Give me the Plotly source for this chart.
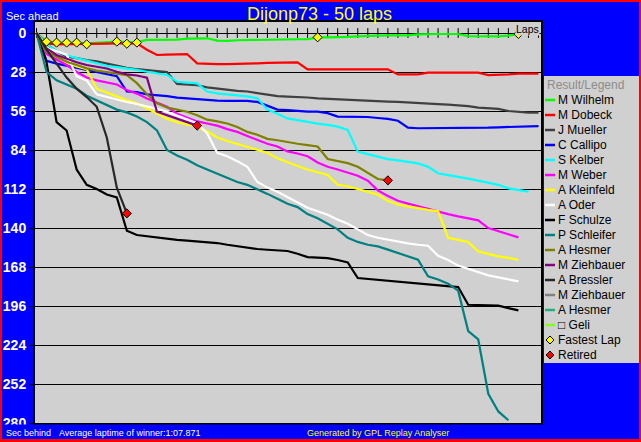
import plotly.graph_objects as go

# ---------------- data ----------------
drivers = ["M Wilhelm", "M Dobeck", "J Mueller", "C Callipo", "S Kelber", "M Weber",
           "A Kleinfeld", "A Oder", "F Schulze", "P Schleifer", "A Hesmer", "M Ziehbauer",
           "A Bressler", "M Ziehbauer", "A Hesmer", "\u25a1 Geli"]
colors = ["#00ff00", "#ff0000", "#404040", "#0000ff", "#00ffff", "#ff00ff",
          "#ffff00", "#ffffff", "#000000", "#008080", "#808000", "#800080",
          "#282828", "#808080", "#20b080", "#80ff20"]

wilhelm = [0, 6.2, 6.9, 6.9, 6.9, 7.5, 7.2, 6.7, 6.2, 6.5, 6.5,
           5.0, 5.0, 5.0, 4.8, 4.0, 3.8, 3.8, 5.5, 5.7, 5.2,
           5.0, 5.0, 4.8, 4.5, 4.5, 4.5, 4.5, 3.1, 3.1, 3.1,
           2.8, 2.4, 2.4, 1.9, 1.7, 1.7, 1.7, 1.0, 0.7, 0.7,
           0.7, 0.7, 2.2, 2.4, 2.4, 2.4, 1.9, 0.7, 0.2, 0.2]
dobeck = [0, 7.5, 8.1, 8.1, 8.1, 8.1, 8.1, 7.6, 7.4, 7.4, 7.4,
          12.0, 15.8, 15.5, 15.1, 15.1, 21.8, 22.3, 22.3, 22.3, 22.3,
          22.3, 21.8, 21.5, 21.5, 21.1, 21.1, 26.1, 26.1, 26.1, 26.1,
          26.1, 26.1, 26.1, 26.1, 26.1, 29.7, 29.7, 29.7, 28.5, 28.5,
          28.5, 28.5, 28.5, 28.5, 30.2, 30.2, 29.7, 29.2, 29.2, 29.2]
mueller = [0, 8, 13, 17, 18, 19.5, 20.4, 22, 23.5, 25, 26,
           26.8, 27.3, 28, 36.5, 37, 37.5, 39, 40, 41, 41.5,
           42, 43, 44.3, 45.3, 45.7, 45.9, 46.3, 46.9, 47.3, 47.6,
           47.9, 48.3, 48.6, 49, 49.3, 49.5, 50, 50.3, 50.5, 51,
           51.4, 51.7, 52.5, 53.6, 54, 54.5, 56, 56.6, 57.2, 57.2]
callipo = [0, 20, 22, 23.5, 25, 27, 28.5, 30, 31, 42, 42.5,
           44, 44.5, 45.3, 46.4, 47, 47.6, 48, 48.5, 48.8, 48.8,
           48.8, 49.5, 52, 55, 55.3, 56, 56.5, 56.5, 57.5, 60,
           60, 60, 60.3, 61, 61.7, 63, 68, 68.4, 68.4, 68.4,
           68.4, 68.4, 68.4, 68.2, 68, 67.7, 67.5, 67.5, 67, 66.8]
kelber = [0, 8, 13, 16, 18, 20, 22, 23.5, 24.5, 25.4, 26.5,
          27.8, 29, 30, 35, 35.5, 36.1, 42, 43.3, 44, 44.5,
          45.5, 46.9, 55, 58, 61.3, 62.5, 64, 65.1, 66, 67.2,
          69.6, 85.2, 87, 88.8, 90.5, 91.5, 92.5, 93.6, 96, 100.7,
          102, 103.1, 104.5, 106, 107.5, 109, 111.5, 112.5, 113.9]
weber = [0, 15, 19, 23, 28, 32, 34, 35.5, 37, 41, 43.5,
         47, 50, 53, 58, 61, 63.5, 65, 66.5, 69, 71,
         74, 77, 79.5, 81.5, 85, 86.5, 88.5, 93, 96, 98,
         100, 102.5, 106, 113, 117, 120.5, 122.5, 124.5, 126, 128,
         130, 131.7, 133, 134.5, 140, 142, 144.5, 146.7]
kleinfeld = [0, 10, 16, 21, 24, 26, 40, 42.5, 45.5, 48.3, 50.5,
             54, 58, 61.5, 64, 65.8, 67.5, 70.5, 75, 77.5, 79.5,
             81.5, 84, 86, 90, 93, 95.5, 98, 100, 101.9, 109,
             110, 112, 114, 116, 120.5, 123, 124.5, 126, 127, 128,
             147, 148.5, 150, 156.8, 158.5, 160.4, 161.5, 162.8]
oder = [0, 11, 13, 15.6, 31, 34, 44, 46, 47.5, 49.5, 51,
        52.5, 54.5, 56.5, 59, 62, 65, 72, 86, 88.5, 92,
        96, 107, 111, 114, 118, 122, 125.5, 128, 130.5, 134,
        137, 141, 145, 147, 148.5, 150, 151, 152, 152.7, 160,
        163, 167, 169.5, 172, 174, 175.5, 177, 178.3]
schulze = [0, 21, 64, 70, 98, 109, 112, 116, 118, 142, 145,
           146, 147, 147.9, 148.5, 149, 149.6, 150.2, 150.8, 152, 153.2,
           154, 155.1, 155.6, 156.1, 156.5, 158.5, 160.9, 161.3, 161.6, 163,
           164.7, 175.9, 176.5, 177.1, 177.7, 178.3, 179, 179.5, 180.2, 180.7,
           181.5, 182.4, 195.1, 195.4, 195.6, 195.8, 197.5, 199.1]
schleifer = [0, 28, 34, 37, 40, 45, 48.5, 52, 55, 57, 60,
             64, 70, 84, 88, 91, 95, 98, 101, 104, 107,
             109, 112, 115.5, 119, 122.6, 125, 130, 133, 137, 141,
             147, 150, 152, 153.2, 155.5, 158, 160.5, 162.8, 174.7, 177,
             180, 185, 214, 220, 259, 271.7, 278]
hesmer = [0, 13.5, 17, 20.6, 23, 25.4, 27, 28, 29, 30.2, 36,
          44, 50.5, 53.5, 55, 56.5, 59, 62.2, 63.5, 65, 67.5,
          71, 73, 76, 77, 78.5, 79.5, 80.5, 81.5, 90.5, 92,
          93.4, 96, 100.5, 104.8, 105.8]
ziehbauer = [0, 11, 15.8, 18.5, 21, 23, 24.5, 25.5, 27.8, 29.7, 30.5,
             32, 56.5, 59, 61.3, 63.5, 66.5]
bressler = [0, 12, 22, 32, 40, 46, 53, 75, 111, 129.5]
ziehbauer2 = []
hesmer2 = []
geli = []

series = [wilhelm, dobeck, mueller, callipo, kelber, weber, kleinfeld, oder,
          schulze, schleifer, hesmer, ziehbauer, bressler, ziehbauer2, hesmer2, geli]
retired_idx = [10, 11, 12]  # A Hesmer, M Ziehbauer, A Bressler

fastest_laps = [1, 2, 3, 4, 5, 8, 9, 10, 28, 48]
fastest_secs = [6.2, 6.9, 6.9, 6.9, 8.1, 6.2, 7.7, 6.9, 3.1, 0.7]

lap_ticks = list(range(0, 51))
y_ticks = [0, 28, 56, 84, 112, 140, 168, 196, 224, 252, 280]

title = "Dijonp73 - 50 laps"
avg_text = "Average laptime of winner:1:07.871"

# ---------------- figure ----------------
W, H = 641, 442
L, R, T, B = 35, 100, 22, 19
PW, PH = W - L - R, H - T - B


def PX(px):
    return (px - L) / PW


def PY(py):
    return (H - B - py) / PH


SANS = "Liberation Sans, Arial, sans-serif"

fig = go.Figure()

# lap tick marks on the zero line
fig.add_trace(go.Scatter(x=lap_ticks, y=[0] * len(lap_ticks), mode="markers",
                         marker=dict(symbol="line-ns", size=7,
                                     line=dict(width=1, color="black")),
                         hoverinfo="skip"))

for name, col, vals in zip(drivers, colors, series):
    if not vals:
        continue
    fig.add_trace(go.Scatter(x=lap_ticks[:len(vals)], y=vals, mode="lines", name=name,
                             line=dict(color=col, width=2.2)))

# retired markers (last recorded lap)
fig.add_trace(go.Scatter(
    x=[len(series[i]) - 1 for i in retired_idx],
    y=[series[i][-1] for i in retired_idx],
    mode="markers", marker=dict(symbol="diamond", size=7, color="#ff0000",
                                line=dict(width=1, color="black"))))

# fastest laps
fig.add_trace(go.Scatter(x=fastest_laps, y=fastest_secs, mode="markers",
                         marker=dict(symbol="diamond", size=7, color="#ffff00",
                                     line=dict(width=1, color="black"))))

shapes = []
annotations = []

# legend box
shapes.append(dict(type="rect", xref="paper", yref="paper", layer="above",
                   x0=PX(544), x1=PX(639), y0=PY(363), y1=PY(76),
                   fillcolor="#d0d0d0", line=dict(width=0)))
annotations.append(dict(text="Result/Legend", xref="paper", yref="paper",
                        x=PX(545), y=PY(85), xanchor="left", yanchor="middle",
                        showarrow=False, font=dict(family=SANS, size=12, color="#8c8c8c")))
legend_names = drivers + ["Fastest Lap", "Retired"]
for i, name in enumerate(legend_names):
    cy = 100 + 15 * i
    annotations.append(dict(text=name, xref="paper", yref="paper",
                            x=PX(556), y=PY(cy), xanchor="left", yanchor="middle",
                            showarrow=False, font=dict(family=SANS, size=12, color="black")))
    if i < len(drivers):
        shapes.append(dict(type="line", xref="paper", yref="paper", layer="above",
                           x0=PX(545), x1=PX(555), y0=PY(cy), y1=PY(cy),
                           line=dict(color=colors[i], width=2.5)))
    else:
        fill = "#ffff00" if name == "Fastest Lap" else "#ff0000"
        cx, r = 550, 4
        path = (f"M {PX(cx - r)},{PY(cy)} L {PX(cx)},{PY(cy - r)} "
                f"L {PX(cx + r)},{PY(cy)} L {PX(cx)},{PY(cy + r)} Z")
        shapes.append(dict(type="path", xref="paper", yref="paper", layer="above",
                           path=path, fillcolor=fill, line=dict(color="black", width=1)))

# bottom band (clips the last tick label like the original)
shapes.append(dict(type="rect", xref="paper", yref="paper", layer="above",
                   x0=PX(0), x1=PX(W), y0=PY(H), y1=PY(424.5),
                   fillcolor="#0000ff", line=dict(width=0)))
# red frame
shapes.append(dict(type="rect", xref="paper", yref="paper", layer="above",
                   x0=PX(0), x1=PX(W), y0=PY(H), y1=PY(0),
                   line=dict(color="#ff0000", width=4)))
shapes.append(dict(type="line", xref="paper", yref="paper", layer="above",
                   x0=PX(0), x1=PX(W), y0=PY(H - 1.5), y1=PY(H - 1.5),
                   line=dict(color="#ff0000", width=3)))

# texts
annotations += [
    dict(text=title, xref="paper", yref="paper", x=PX(319), y=PY(14),
         xanchor="center", yanchor="middle", showarrow=False,
         font=dict(family=SANS, size=18, color="#ffff00")),
    dict(text="Sec ahead", xref="paper", yref="paper", x=PX(4), y=PY(16),
         xanchor="left", yanchor="middle", showarrow=False,
         font=dict(family=SANS, size=11, color="white")),
    dict(text="Laps", xref="paper", yref="paper", x=PX(540), y=PY(22),
         xanchor="right", yanchor="top", showarrow=False, bgcolor="#d0d0d0",
         borderpad=0, font=dict(family=SANS, size=10.5, color="black")),
    dict(text="Sec behind", xref="paper", yref="paper", x=PX(4), y=PY(433),
         xanchor="left", yanchor="middle", showarrow=False,
         font=dict(family=SANS, size=9, color="white")),
    dict(text=avg_text, xref="paper", yref="paper", x=PX(57), y=PY(433),
         xanchor="left", yanchor="middle", showarrow=False,
         font=dict(family=SANS, size=9, color="white")),
    dict(text="Generated by GPL Replay Analyser", xref="paper", yref="paper",
         x=PX(305), y=PY(433), xanchor="left", yanchor="middle", showarrow=False,
         font=dict(family=SANS, size=9, color="#ffff00")),
]

fig.update_layout(
    width=W, height=H, autosize=False,
    margin=dict(l=L, r=R, t=T, b=B, pad=0, autoexpand=False),
    paper_bgcolor="#0000ff", plot_bgcolor="#d0d0d0",
    showlegend=False,
    xaxis=dict(range=[-0.15, 50.25], showgrid=False, zeroline=False,
               showticklabels=False, ticks="", showline=True, mirror=True,
               linecolor="black", linewidth=2, automargin=False),
    yaxis=dict(range=[280, -7.9], tickmode="array", tickvals=y_ticks,
               ticktext=[str(v) for v in y_ticks], showgrid=True,
               gridcolor="black", gridwidth=1, zeroline=False,
               ticks="outside", ticklen=4, tickcolor="black", tickwidth=1,
               tickfont=dict(family=SANS, size=14, color="white", weight="bold"),
               showline=True, mirror=True, linecolor="black", linewidth=2,
               automargin=False),
    shapes=shapes, annotations=annotations,
)

fig.write_html("out.html",
               config={"displayModeBar": False, "staticPlot": True},
               post_script="document.body.style.margin='0px';"
                           "document.body.style.overflow='hidden';")
